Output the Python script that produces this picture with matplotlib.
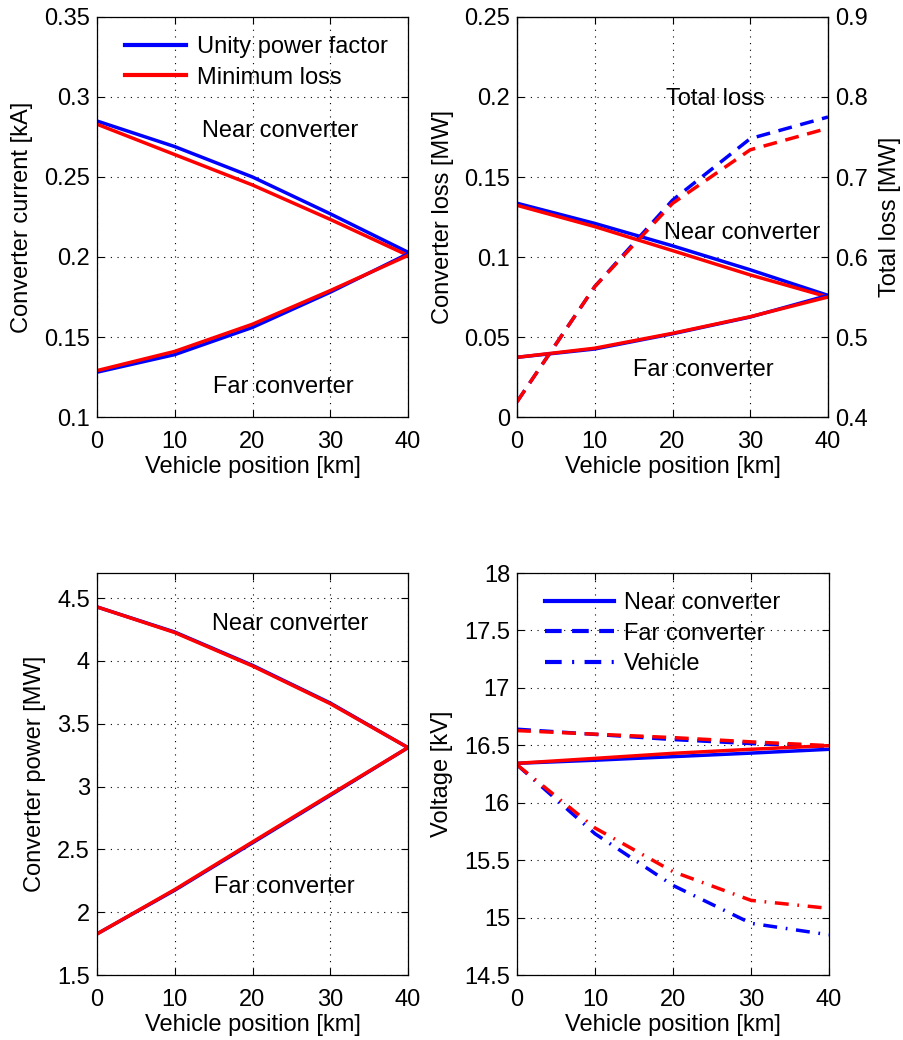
import matplotlib
matplotlib.use("Agg")
import matplotlib.pyplot as plt

plt.rcParams['font.family'] = ['Liberation Sans', 'DejaVu Sans']
FS = 17
plt.rcParams['font.size'] = FS

# Data
pos = [0, 10, 20, 30, 40]

cur_near_upf = [0.285, 0.269, 0.250, 0.227, 0.203]
cur_near_ml = [0.283, 0.264, 0.245, 0.2235, 0.201]
cur_far_upf = [0.128, 0.139, 0.156, 0.178, 0.202]
cur_far_ml = [0.129, 0.141, 0.158, 0.179, 0.201]

loss_near_upf = [0.1336, 0.121, 0.107, 0.092, 0.076]
loss_near_ml = [0.1323, 0.119, 0.104, 0.0888, 0.075]
loss_far_upf = [0.0373, 0.0425, 0.052, 0.0625, 0.076]
loss_far_ml = [0.0373, 0.043, 0.0523, 0.0627, 0.075]
total_upf = [0.419, 0.563, 0.671, 0.748, 0.775]
total_ml = [0.419, 0.563, 0.667, 0.734, 0.761]

pow_near_upf = [4.43, 4.23, 3.965, 3.665, 3.31]
pow_near_ml = [4.43, 4.226, 3.96, 3.66, 3.31]
pow_far_upf = [1.827, 2.175, 2.552, 2.93, 3.31]
pow_far_ml = [1.827, 2.18, 2.559, 2.936, 3.31]

v_near_upf = [16.343, 16.37, 16.401, 16.432, 16.465]
v_near_ml = [16.343, 16.386, 16.430, 16.465, 16.497]
v_far_upf = [16.64, 16.595, 16.55, 16.515, 16.49]
v_far_ml = [16.628, 16.597, 16.567, 16.53, 16.497]
v_veh_upf = [16.33, 15.73, 15.28, 14.95, 14.85]
v_veh_ml = [16.33, 15.78, 15.40, 15.15, 15.08]

BLUE = '#0000ff'
RED = '#ff0000'
LW = 2.5
DASH = (0, (4, 2.5))
DASHDOT = (0, (4, 2.5, 0.5, 2.5))

fig = plt.figure(figsize=(9.04, 10.4), dpi=100)
W, H = 904, 1040

def make_ax(l, t, r, b):
    return fig.add_axes([l / W, 1 - b / H, (r - l) / W, (b - t) / H])

def style(ax, right=True):
    ax.grid(True, color='black', linestyle=(0, (1, 5)), linewidth=0.8)
    ax.tick_params(direction='in', length=5, top=True, right=right, width=0.8,
                   labelsize=FS)
    ax.tick_params(axis='y', pad=5)
    ax.tick_params(axis='x', pad=10)
    for s in ax.spines.values():
        s.set_linewidth(0.9)
    ax.set_xlim(0, 40)
    ax.set_xticks([0, 10, 20, 30, 40])
    ax.set_xlabel('Vehicle position [km]', fontsize=FS, labelpad=2)

def legend(ax, hl, spacing):
    leg = ax.legend(loc='upper left', frameon=False, fontsize=FS, handlelength=hl,
                    borderaxespad=0.0, labelspacing=spacing, handletextpad=0.45,
                    bbox_to_anchor=(0.06, 0.975))
    for ln in leg.get_lines():
        ln.set_linewidth(3.0)

# Top-left
ax1 = make_ax(97, 17, 408, 417)
ax1.plot(pos, cur_near_upf, color=BLUE, lw=LW, label='Unity power factor')
ax1.plot(pos, cur_near_ml, color=RED, lw=LW, label='Minimum loss')
ax1.plot(pos, cur_far_upf, color=BLUE, lw=LW)
ax1.plot(pos, cur_far_ml, color=RED, lw=LW)
ax1.set_ylim(0.1, 0.35)
ax1.set_yticks([0.1, 0.15, 0.2, 0.25, 0.3, 0.35])
ax1.set_yticklabels(['0.1', '0.15', '0.2', '0.25', '0.3', '0.35'])
ax1.set_ylabel('Converter current [kA]', fontsize=FS, labelpad=8)
style(ax1)
ax1.text(23.5, 0.279, 'Near converter', ha='center', va='center', fontsize=FS)
ax1.text(24.0, 0.119, 'Far converter', ha='center', va='center', fontsize=FS)
legend(ax1, 2.6, 0.35)

# Top-right
ax2 = make_ax(517, 17, 828, 417)
ax2.plot(pos, loss_near_upf, color=BLUE, lw=LW)
ax2.plot(pos, loss_near_ml, color=RED, lw=LW)
ax2.plot(pos, loss_far_upf, color=BLUE, lw=LW)
ax2.plot(pos, loss_far_ml, color=RED, lw=LW)
ax2.set_ylim(0, 0.25)
ax2.set_yticks([0, 0.05, 0.1, 0.15, 0.2, 0.25])
ax2.set_yticklabels(['0', '0.05', '0.1', '0.15', '0.2', '0.25'])
ax2.set_ylabel('Converter loss [MW]', fontsize=FS, labelpad=7)
style(ax2, right=False)
ax2.text(25.5, 0.199, 'Total loss', ha='center', va='center', fontsize=FS)
ax2.text(29.0, 0.115, 'Near converter', ha='center', va='center', fontsize=FS)
ax2.text(24.0, 0.0294, 'Far converter', ha='center', va='center', fontsize=FS)
ax2b = ax2.twinx()
ax2b.plot(pos, total_upf, color=BLUE, lw=LW, linestyle=DASH)
ax2b.plot(pos, total_ml, color=RED, lw=LW, linestyle=DASH)
ax2b.set_ylim(0.4, 0.9)
ax2b.set_yticks([0.4, 0.5, 0.6, 0.7, 0.8, 0.9])
ax2b.tick_params(direction='in', length=5, labelsize=FS, width=0.8, pad=5)
ax2b.set_ylabel('Total loss [MW]', fontsize=FS, labelpad=8)

# Bottom-left
ax3 = make_ax(97, 573, 408, 975)
ax3.plot(pos, pow_near_upf, color=BLUE, lw=LW)
ax3.plot(pos, pow_far_upf, color=BLUE, lw=LW)
ax3.plot(pos, pow_near_ml, color=RED, lw=LW)
ax3.plot(pos, pow_far_ml, color=RED, lw=LW)
ax3.set_ylim(1.5, 4.7)
ax3.set_yticks([1.5, 2, 2.5, 3, 3.5, 4, 4.5])
ax3.set_yticklabels(['1.5', '2', '2.5', '3', '3.5', '4', '4.5'])
ax3.set_ylabel('Converter power [MW]', fontsize=FS, labelpad=8)
style(ax3)
ax3.text(24.8, 4.294, 'Near converter', ha='center', va='center', fontsize=FS)
ax3.text(24.1, 2.2, 'Far converter', ha='center', va='center', fontsize=FS)

# Bottom-right
ax4 = make_ax(517, 573, 829, 975)
ax4.plot(pos, v_near_upf, color=BLUE, lw=LW, linestyle='-', label='Near converter')
ax4.plot(pos, v_far_upf, color=BLUE, lw=LW, linestyle=DASH, label='Far converter')
ax4.plot(pos, v_veh_upf, color=BLUE, lw=LW, linestyle=DASHDOT, label='Vehicle')
ax4.plot(pos, v_near_ml, color=RED, lw=LW, linestyle='-')
ax4.plot(pos, v_far_ml, color=RED, lw=LW, linestyle=DASH)
ax4.plot(pos, v_veh_ml, color=RED, lw=LW, linestyle=DASHDOT)
ax4.set_ylim(14.5, 18)
ax4.set_yticks([14.5, 15, 15.5, 16, 16.5, 17, 17.5, 18])
ax4.set_yticklabels(['14.5', '15', '15.5', '16', '16.5', '17', '17.5', '18'])
ax4.set_ylabel('Voltage [kV]', fontsize=FS, labelpad=8)
style(ax4)
legend(ax4, 2.9, 0.35)

fig.savefig('out.png', dpi=100)
